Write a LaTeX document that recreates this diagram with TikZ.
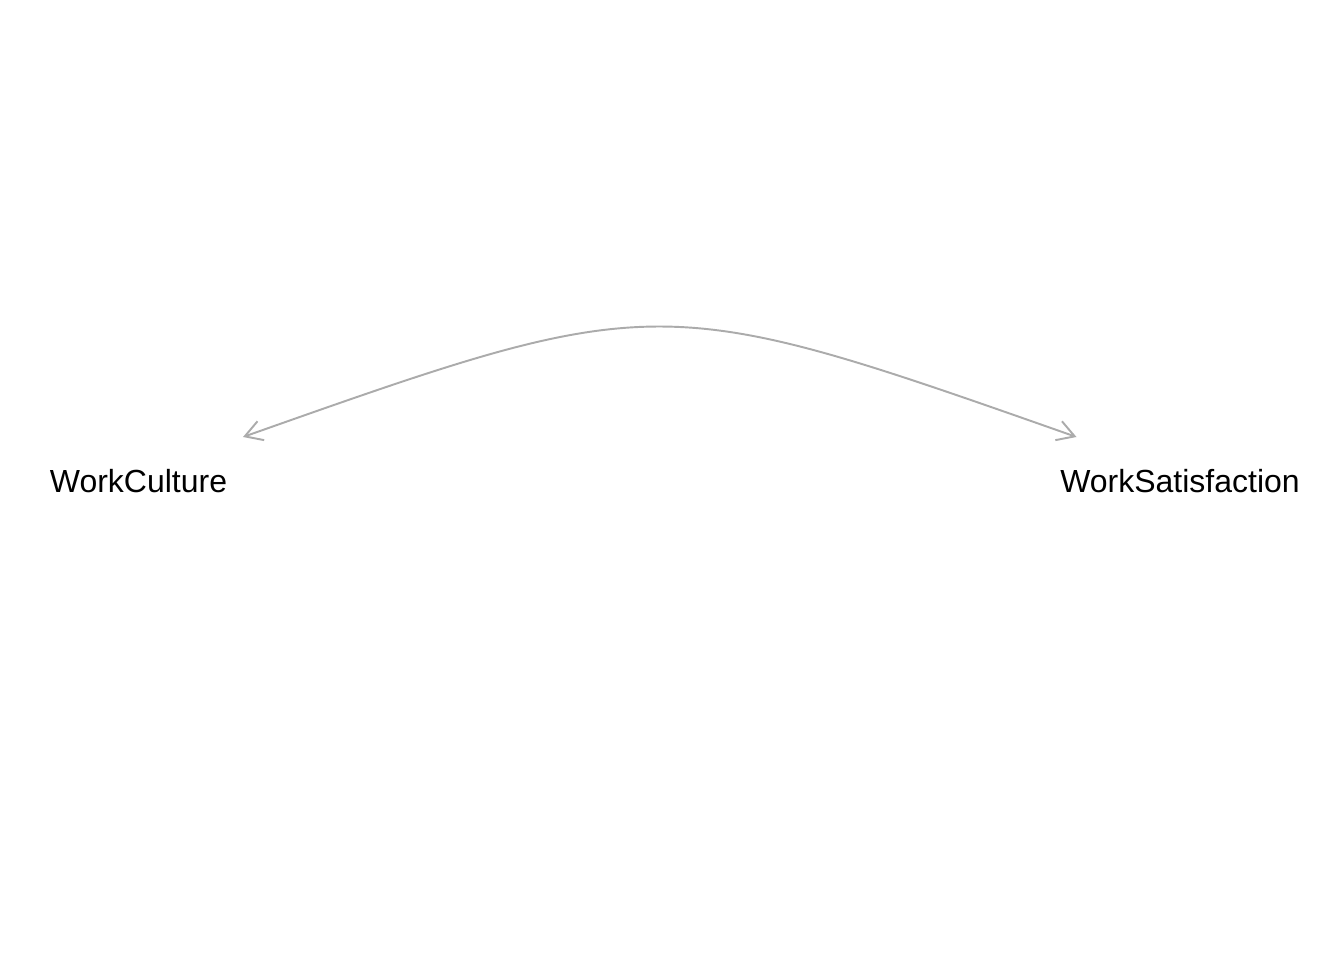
\documentclass[tikz,border=0pt]{standalone}
\usepackage{fontspec}
\setmainfont{Liberation Sans}
\usepackage{xcolor}
\usetikzlibrary{arrows.meta,positioning,calc}
\definecolor{edgegray}{HTML}{ABABAB}

\begin{document}
\begin{tikzpicture}[
  every node/.style={inner sep=0pt, font=\fontsize{9.1}{11}\selectfont},
  arrow/.style={{Straight Barb[length=1.7mm, width=2mm]}-{Straight Barb[length=1.7mm, width=2mm]}, line width=0.55pt, draw=edgegray}
]
\useasboundingbox (0,0) rectangle (13.44,9.6);
\node (culture) at (1.385,4.79) {WorkCulture};
\node (satisfaction) at (11.80,4.79) {WorkSatisfaction};
\coordinate (cultureend) at ($(culture)+(1.045,0.44)$);
\coordinate (satisfactionend) at ($(satisfaction)+(-1.035,0.44)$);

\draw[arrow] (cultureend) .. controls (6.59,6.70) and (6.59,6.70) .. (satisfactionend);
\end{tikzpicture}
\end{document}
